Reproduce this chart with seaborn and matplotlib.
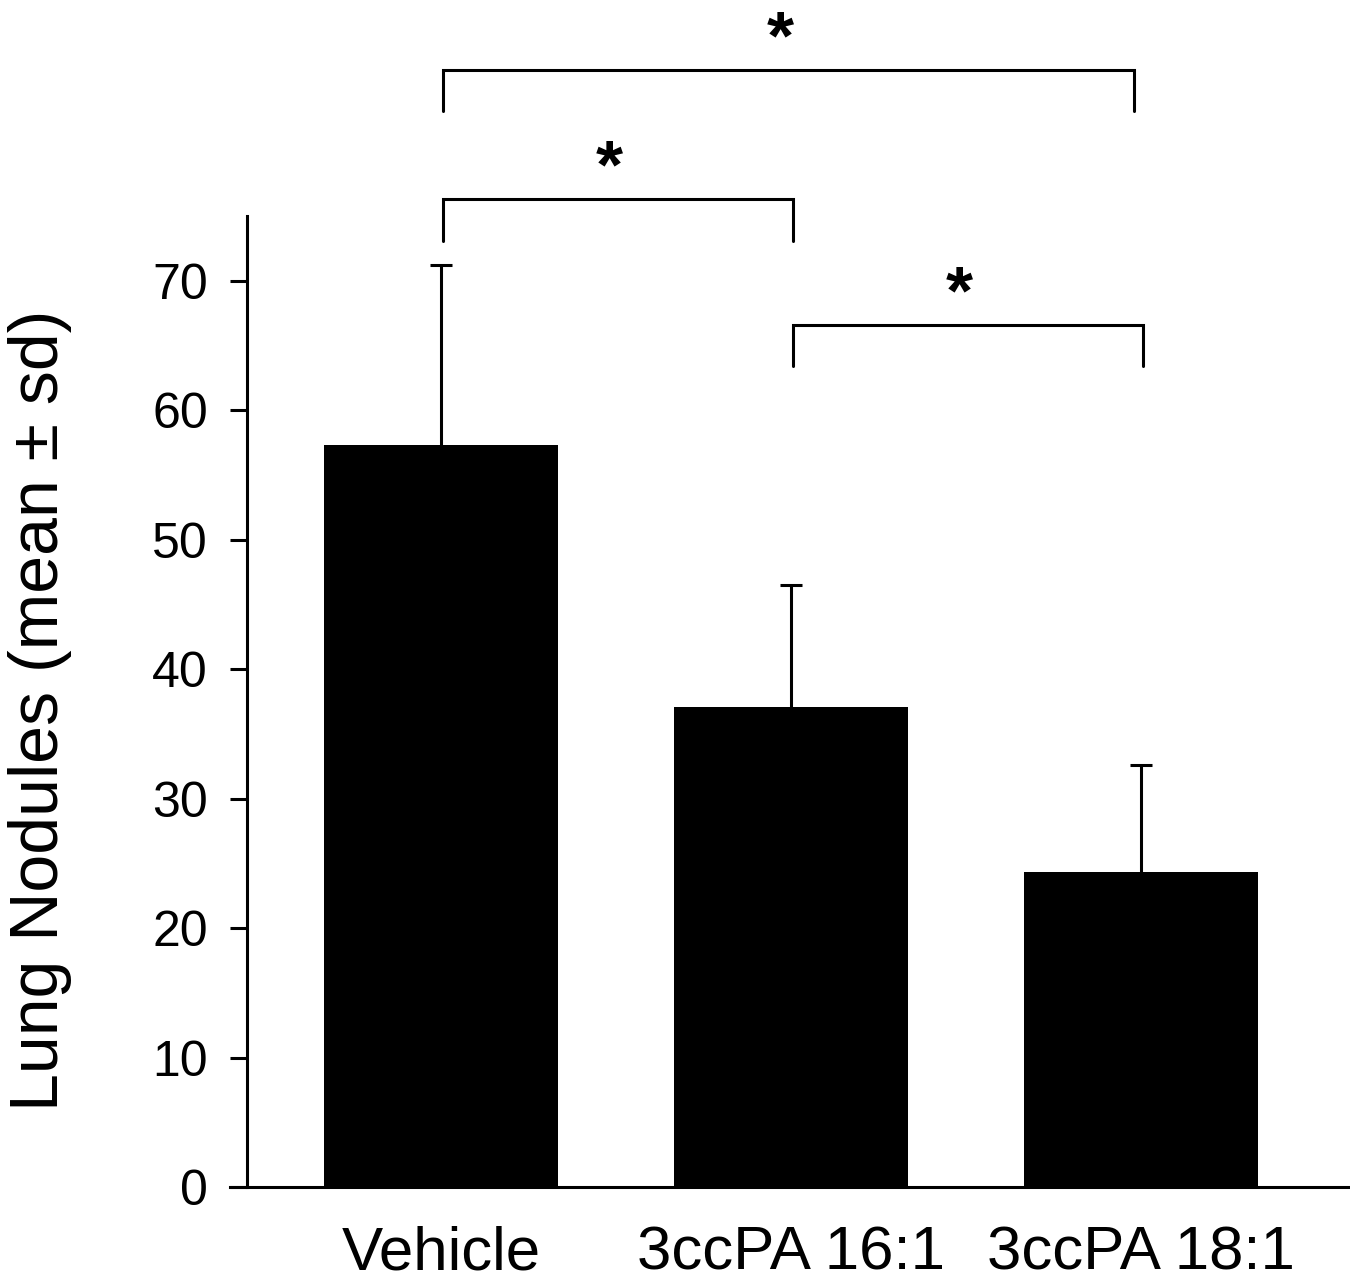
import numpy as np
import pandas as pd
import matplotlib
matplotlib.use("Agg")
import matplotlib.pyplot as plt
import seaborn as sns

groups = ["Vehicle", "3ccPA 16:1", "3ccPA 18:1"]
means = [57.3, 37.1, 24.3]
sds = [13.9, 9.4, 8.3]
y_ticks = [0, 10, 20, 30, 40, 50, 60, 70]
y_label = "Lung Nodules (mean \u00b1 sd)"
# significance brackets
sig_left = [0.006, 0.006, 1.006]
sig_right = [1.006, 1.98, 2.006]
sig_y = [76.3, 86.3, 66.6]
sig_leg = [73.1, 83.1, 63.4]
sig_text = ["*", "*", "*"]

sns.set_theme(style="white")
plt.rcParams["font.family"] = ["Liberation Sans", "DejaVu Sans"]

W, H = 1350, 1275
fig = plt.figure(figsize=(W / 100, H / 100), dpi=100)
ax = fig.add_axes([230 / W, 1 - 1187 / H, 1 - 230 / W, (1187 - 216) / H])

df = pd.DataFrame({"group": groups, "mean": means})
sns.barplot(data=df, x="group", y="mean", color="black", width=0.666,
            errorbar=None, ax=ax, saturation=1)
for p in ax.patches:
    p.set_edgecolor("black")
    p.set_linewidth(0)

lw = 2.2
eb = ax.errorbar(np.arange(len(groups)), means,
                 yerr=[np.zeros(len(sds)), sds], fmt="none", ecolor="black",
                 elinewidth=lw, capsize=8, capthick=lw)
caplines = eb[1]
if len(caplines) == 2:
    caplines[0].set_visible(False)

px = 1 / 350.0
ax.set_xlim(-211 * px, 909 * px)
ax.set_ylim(0, 75)

ax.spines["top"].set_visible(False)
ax.spines["right"].set_visible(False)
ax.spines["left"].set_position(("data", -194 * px))
for s in ["left", "bottom"]:
    ax.spines[s].set_linewidth(lw)
    ax.spines[s].set_color("black")

ax.set_yticks(y_ticks)
ax.set_yticklabels([str(t) for t in y_ticks])
ax.tick_params(axis="y", direction="out", length=12, width=lw, pad=16,
               labelsize=36, left=True, colors="black")
ax.tick_params(axis="x", length=0, pad=28, labelsize=44.5, colors="black")
ax.set_xlabel("")
ax.set_ylabel(y_label, fontsize=49, color="black")
ax.yaxis.set_label_coords((72 - 230) / (W - 230), (1187 - 710) / (1187 - 216))

for xl, xr, yb, yl, t in zip(sig_left, sig_right, sig_y, sig_leg, sig_text):
    ax.plot([xl, xl, xr, xr], [yl, yb, yb, yl], color="black", lw=lw,
            clip_on=False, solid_joinstyle="miter")
    ax.text((xl + xr) / 2 - 0.025, yb + 0.9, t, ha="center", va="baseline",
            fontsize=50, fontweight="bold", clip_on=False, color="black")

fig.savefig("out.png", dpi=100)
